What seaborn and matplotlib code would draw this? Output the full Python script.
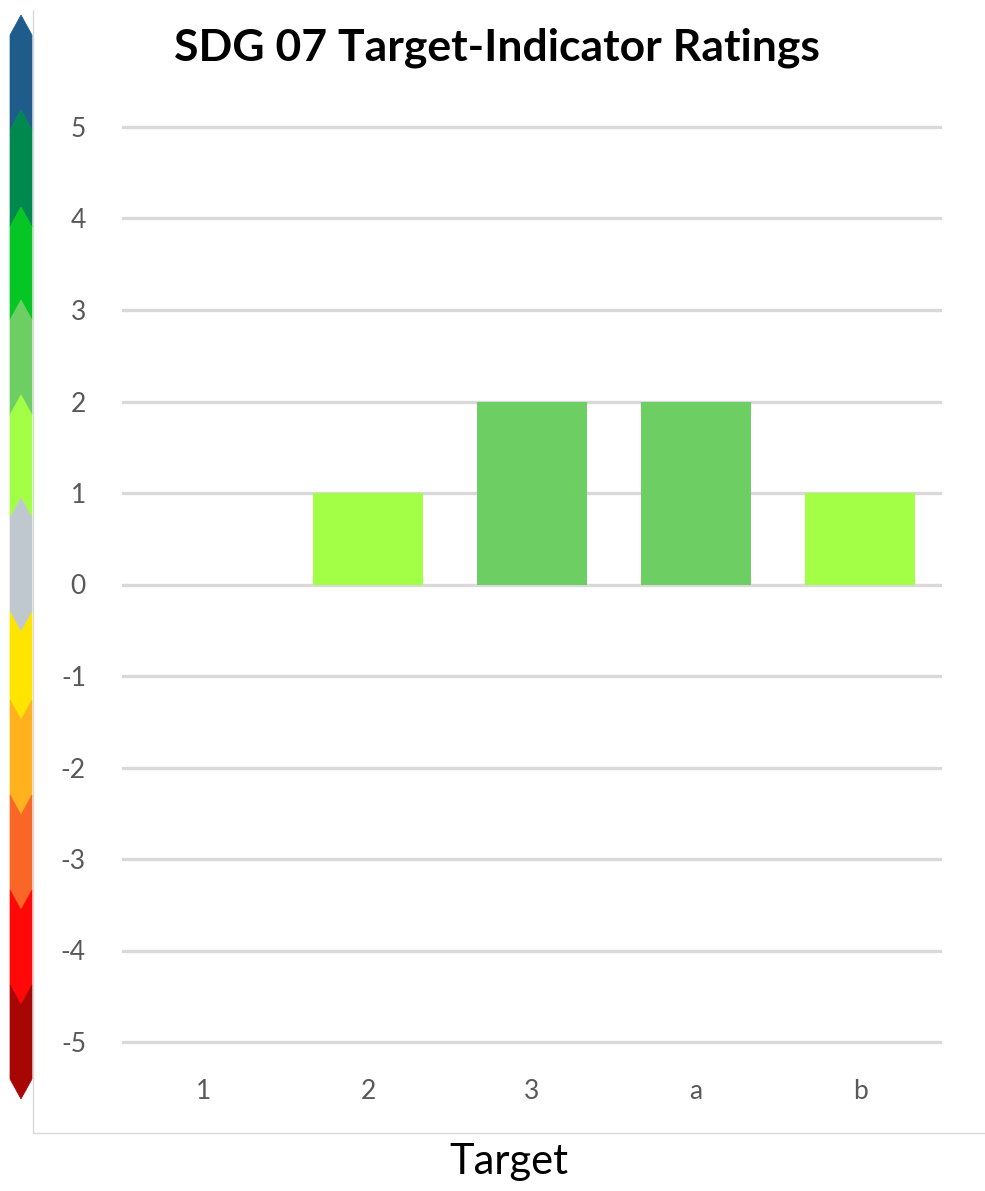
import matplotlib
matplotlib.use("Agg")
import matplotlib.pyplot as plt
import seaborn as sns
import pandas as pd
from matplotlib.patches import Polygon
from matplotlib.lines import Line2D

# ---- data ----
targets = ["1", "2", "3", "a", "b"]
ratings = [0, 1, 2, 2, 1]
y_ticks = [-5, -4, -3, -2, -1, 0, 1, 2, 3, 4, 5]

# rating colour scale (top to bottom: 5+ ... -5)
scale_levels = [5, 4, 3, 2, 1, 0, -1, -2, -3, -4, -5]
scale_colors = ["#1F5C8B", "#00894F", "#06C625", "#6CCE63", "#A2FF45",
                "#C0C8CF", "#FFE400", "#FFB21E", "#F96626", "#FF0808", "#A80505"]
# rating n is drawn with the colour of the band just above n
band_color = {1: "#A2FF45", 2: "#6CCE63", 3: "#06C625", 4: "#00894F", 5: "#1F5C8B",
              0: "#C0C8CF", -1: "#FFE400", -2: "#FFB21E", -3: "#F96626",
              -4: "#FF0808", -5: "#A80505"}

df = pd.DataFrame({"Target": targets, "Rating": ratings})

W, H = 985, 1191
fig = plt.figure(figsize=(W / 100, H / 100), dpi=100)
fig.patch.set_facecolor("white")

sns.set_style("white")
plt.rcParams["font.family"] = ["Lato", "DejaVu Sans"]

# frame (left and bottom edges) around chart area
fig_ax = fig.add_axes([0, 0, 1, 1], zorder=-1)
fig_ax.set_xlim(0, W)
fig_ax.set_ylim(H, 0)
fig_ax.axis("off")
fig_ax.add_line(Line2D([32.5, 32.5], [10, 1133], color="#D9D9D9", linewidth=1))
fig_ax.add_line(Line2D([32.5, W], [1133, 1133], color="#D9D9D9", linewidth=1))

# main bar axes
ylo, yhi = -5.3, 5.3
ppu = (1042 - 127) / 10.0
top_px = 127 - (yhi - 5) * ppu
bot_px = 1042 + (-5 - ylo) * ppu
ax = fig.add_axes([122 / W, 1 - bot_px / H, 820 / W, (bot_px - top_px) / H])

palette = {t: band_color[r] for t, r in zip(targets, ratings)}
sns.barplot(data=df, x="Target", y="Rating", hue="Target", palette=palette,
            order=targets, hue_order=targets, width=0.67, legend=False,
            saturation=1, linewidth=0, edgecolor="none", ax=ax, zorder=3)

ax.set_ylim(ylo, yhi)
ax.set_xlim(-0.5, len(targets) - 0.5)
ax.set_yticks(y_ticks)
ax.set_yticklabels([str(v) for v in y_ticks])
ax.yaxis.grid(True, color="#D9D9D9", linewidth=2.4, zorder=0)
ax.xaxis.grid(False)
ax.set_axisbelow(True)
for s in ax.spines.values():
    s.set_visible(False)
ax.tick_params(axis="y", length=0, pad=26, labelsize=19, labelcolor="#595959")
ax.tick_params(axis="x", length=0, pad=7, labelsize=19, labelcolor="#595959")
ax.set_xlabel("")
ax.set_ylabel("")
ax.patch.set_alpha(0)

fig.text(497 / W, 1 - 48 / H, "SDG 07 Target-Indicator Ratings",
         ha="center", va="center", fontsize=32, fontweight="bold", color="black")
fig.text(509 / W, 1 - 1162 / H, "Target", ha="center", va="center",
         fontsize=30, fontweight="normal", color="black")

# ---- rating colour scale on the left ----
xl, xr, xc = 10, 32, 21
depth = 20
# side-y of the boundaries between consecutive bands (pixels, top->bottom)
bounds = [35, 130, 227, 320, 415, 518, 612, 700, 795, 890, 985, 1079]
# chevron direction of each boundary: -1 = points up, +1 = points down
dirs = [-1, -1, -1, -1, -1, -1, 1, 1, 1, 1, 1, 1]
for i, col in enumerate(scale_colors):
    t, b = bounds[i], bounds[i + 1]
    dt, db = dirs[i], dirs[i + 1]
    pts = [(xl, t), (xc, t + dt * depth), (xr, t),
           (xr, b), (xc, b + db * depth), (xl, b)]
    fig_ax.add_patch(Polygon(pts, closed=True, facecolor=col, edgecolor=col,
                             linewidth=0.5, zorder=5 + i))

fig.savefig("out.png", dpi=100, facecolor="white")
